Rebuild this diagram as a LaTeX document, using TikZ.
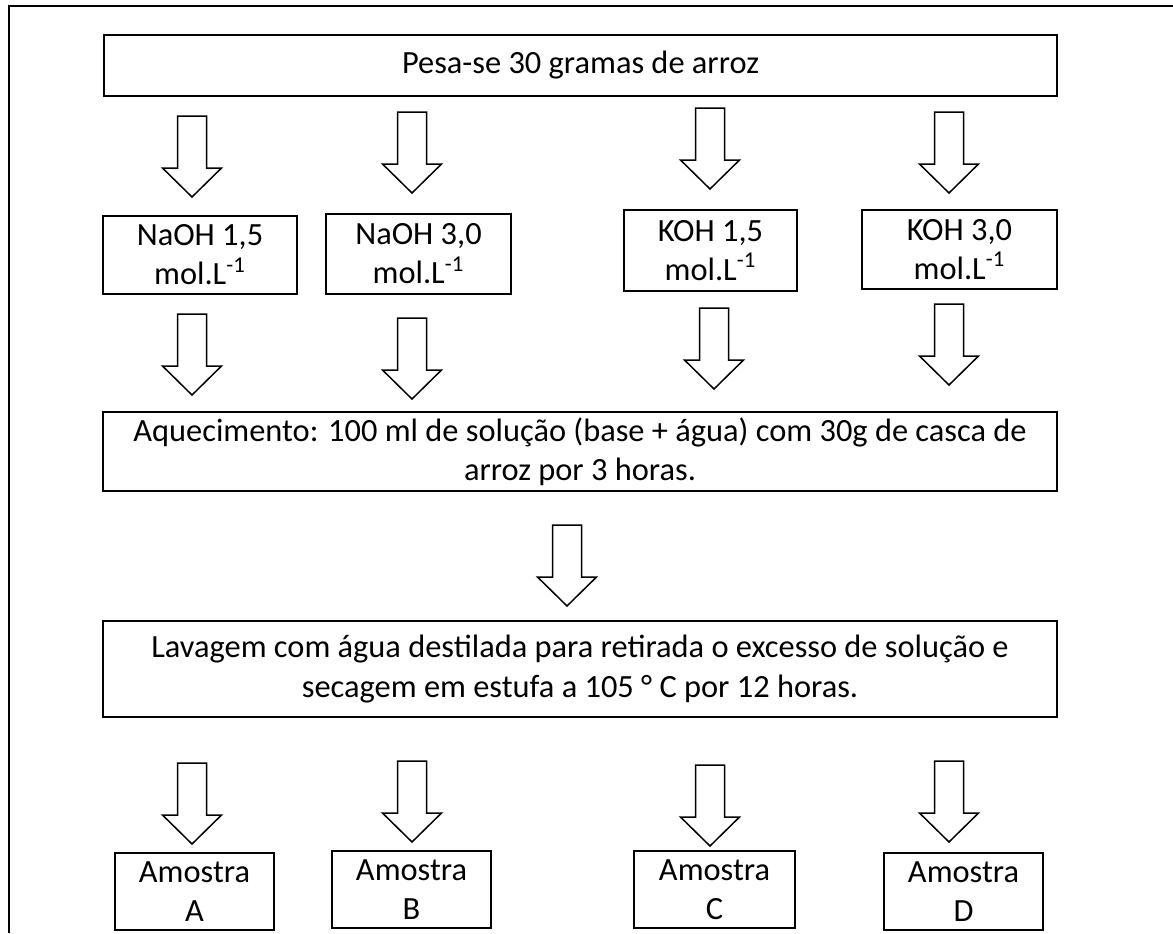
\documentclass[tikz,border=0pt]{standalone}
\usepackage{fontspec}
\setmainfont{Carlito}
\usetikzlibrary{positioning}
\tikzset{
  box/.style={draw=black, line width=1pt, inner sep=0pt, align=center,
    font=\fontsize{16.2}{19.6}\selectfont},
  pics/downarrow/.style={code={
    \draw[line width=0.75pt, fill=white] (-14.5,0) -- (14.5,0) -- (14.5,52) -- (29.5,52)
      -- (0,81) -- (-29.5,52) -- (-14.5,52) -- cycle;
  }}
}

\begin{document}
\begin{tikzpicture}[x=0.5pt, y=-0.5pt, line join=miter]
\useasboundingbox (0,0) rectangle (1173,933);

% Frame
\draw[line width=1pt] (9,933) -- (9,6) -- (1173,6);

% Steps
\node[box, minimum width=476.5pt, minimum height=30.5pt] (top) at (580.5,65.5) {Pesa-se 30 gramas de arroz};

\node[box, minimum width=97pt, minimum height=39pt] (naoh1) at (200,255) {NaOH 1,5\\ mol.L\textsuperscript{-1}};
\node[box, minimum width=92.5pt, minimum height=40pt] (naoh3) at (418.5,254) {NaOH 3,0\\ mol.L\textsuperscript{-1}};
\node[box, minimum width=86.5pt, minimum height=40.5pt] (koh1) at (710.5,250.5) {KOH 1,5\\ mol.L\textsuperscript{-1}};
\node[box, minimum width=97.5pt, minimum height=39.5pt] (koh3) at (959.5,249.5) {KOH 3,0\\ mol.L\textsuperscript{-1}};

\node[box, minimum width=477pt, minimum height=39.5pt] (heat) at (580,451.5)
  {Aquecimento: 100 ml de solução (base + água) com 30g de casca de\\ arroz por 3 horas.};
\node[box, minimum width=477pt, minimum height=48pt] (wash) at (580,669)
  {Lavagem com água destilada para retirada o excesso de solução e\\ secagem em estufa a 105 ° C por 12 horas.};

% Samples
\node[box, minimum width=79.5pt, minimum height=38.5pt] (amA) at (194.5,891.5) {Amostra\\ A};
\node[box, minimum width=79.5pt, minimum height=38.5pt] (amB) at (411.5,889.5) {Amostra\\ B};
\node[box, minimum width=80.5pt, minimum height=38.5pt] (amC) at (714.5,889.5) {Amostra\\ C};
\node[box, minimum width=79.5pt, minimum height=38.5pt] (amD) at (963.5,891.5) {Amostra\\ D};

% Block arrows
\foreach \x/\y in {192/116, 412/112, 710/108, 949/112,
                   192/314, 412/318, 714/308, 949/304,
                   567/525,
                   192/763, 412/761, 710/765, 949/761}
  \pic at (\x,\y) {downarrow};

\end{tikzpicture}
\end{document}
